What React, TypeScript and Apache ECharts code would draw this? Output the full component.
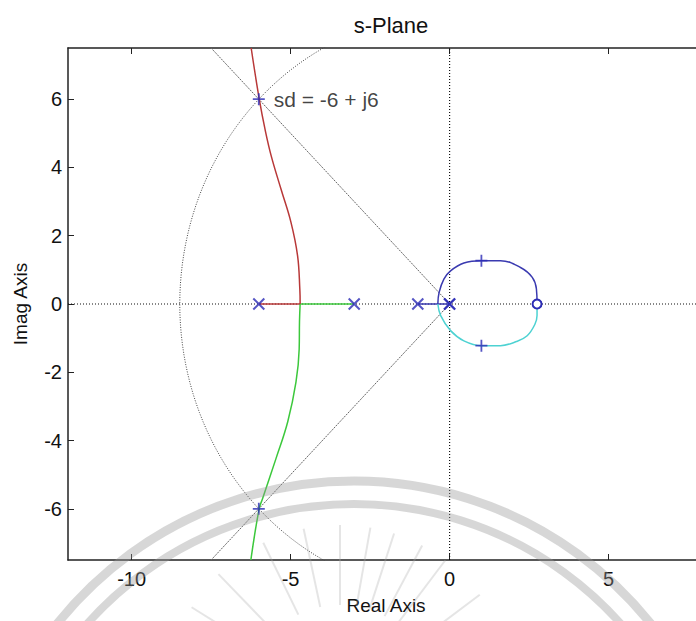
import React, { useEffect, useRef } from "react";
import * as echarts from "echarts";

const FONT = "'Liberation Sans', Arial, Helvetica, sans-serif";

// Axis extents and tick positions
const xRange: [number, number] = [-12, 8];
const yRange: [number, number] = [-7.5, 7.5];
const xTicks = [-10, -5, 0, 5];
const yTicks = [-6, -4, -2, 0, 2, 4, 6];

// Open-loop poles (x) and zero (o)
const openLoopPoles = [0, 0, -1, -3, -6];
const openLoopZeros = [2.75];

// Desired dominant pole
const sd: [number, number] = [-6, 6];

// Closed-loop poles at the design gain (+)
const closedLoopPoles: [number, number][] = [
  [-6, 6],
  [-6, -6],
  [1.0, 1.27],
  [1.0, -1.22],
];

// Real-axis segments of the locus
const redAxis: [number, number][] = [[-6, 0], [-4.7, 0]];
const greenAxis: [number, number][] = [[-3, 0], [-4.7, 0]];
const blueAxis: [number, number][] = [[-1, 0], [0, 0]];

// Complex branches
const redBranch: [number, number][] = [
  [-4.7, 0], [-4.71, 0.44], [-4.78, 1.41], [-4.99, 2.4], [-5.3, 3.36],
  [-5.61, 4.34], [-5.8, 5.1], [-5.98, 5.97], [-6.24, 7.5],
];
const greenBranch: [number, number][] = [
  [-4.7, 0], [-4.72, -0.5], [-4.73, -1.32], [-4.83, -2.28], [-5.09, -3.45],
  [-5.46, -4.53], [-5.88, -5.7], [-5.99, -6], [-6.25, -7.5],
];
const blueBranch: [number, number][] = [
  [-0.37, 0], [-0.33, 0.34], [-0.18, 0.73], [0.03, 0.97], [0.45, 1.2],
  [1.0, 1.27], [1.6, 1.27], [2.23, 1.07], [2.6, 0.78], [2.73, 0.44], [2.75, 0],
];
const cyanBranch: [number, number][] = [
  [-0.37, 0], [-0.28, -0.34], [0.03, -0.78], [0.45, -1.08], [1.0, -1.22],
  [1.6, -1.22], [2.1, -1.1], [2.44, -0.93], [2.68, -0.6], [2.75, -0.34], [2.75, 0],
];

const CROSS = "path://M0,0L10,10M10,0L0,10";
const PLUS = "path://M5,0L5,10M0,5L10,5";
const MARK = "#2b2bb5";

export default function App() {
  const ref = useRef<HTMLDivElement>(null);

  useEffect(() => {
    document.body.style.margin = "0";
    document.body.style.overflow = "hidden";
    document.documentElement.style.overflow = "hidden";
    if (!ref.current) return;
    const chart = echarts.init(ref.current, undefined, { renderer: "svg" });

    // Constant-damping rays through sd and its conjugate, and the natural-frequency circle
    const t = yRange[1] / sd[1];
    const rayUp: [number, number][] = [[0, 0], [sd[0] * t, sd[1] * t]];
    const rayDown: [number, number][] = [[0, 0], [sd[0] * t, -sd[1] * t]];
    const wn = Math.hypot(sd[0], sd[1]);
    const circle: [number, number][] = [];
    for (let a = 90; a <= 270; a += 2) {
      const r = (a * Math.PI) / 180;
      circle.push([wn * Math.cos(r), wn * Math.sin(r)]);
    }

    const line = (data: [number, number][], color: string, width: number, type: any = "solid", smooth: number | boolean = false) => ({
      type: "line",
      data,
      showSymbol: false,
      symbol: "none",
      smooth,
      lineStyle: { color, width, type },
      silent: true,
      z: 2,
    });

    // Watermark: two concentric arcs and a fan of rays
    const graphics: any[] = [
      {
        type: "arc",
        shape: { cx: 354, cy: 861, r: 380, startAngle: (198 * Math.PI) / 180, endAngle: (342 * Math.PI) / 180 },
        style: { stroke: "rgba(150,150,150,0.38)", lineWidth: 9, fill: null },
        z: 50,
      },
      {
        type: "arc",
        shape: { cx: 354, cy: 861, r: 357, startAngle: (198 * Math.PI) / 180, endAngle: (342 * Math.PI) / 180 },
        style: { stroke: "rgba(150,150,150,0.38)", lineWidth: 8, fill: null },
        z: 50,
      },
    ];
    const rayAngles = [212, 226, 244, 258, 270, 280, 288, 298, 307, 323, 334];
    rayAngles.forEach((deg) => {
      const r = (deg * Math.PI) / 180;
      graphics.push({
        type: "line",
        shape: {
          x1: 340 + 95 * Math.cos(r),
          y1: 700 + 95 * Math.sin(r),
          x2: 340 + 175 * Math.cos(r),
          y2: 700 + 175 * Math.sin(r),
        },
        style: { stroke: "rgba(170,170,170,0.3)", lineWidth: 2 },
        z: 50,
      });
    });

    const axisCommon = {
      type: "value",
      axisLine: { show: true, onZero: false, lineStyle: { color: "#222", width: 1.5 } },
      splitLine: { show: false },
    };

    chart.setOption({
      animation: false,
      backgroundColor: "#ffffff",
      title: {
        text: "s-Plane",
        left: 386,
        textAlign: "center",
        top: 9,
        textStyle: { fontSize: 22, fontWeight: "normal", color: "#111", fontFamily: FONT },
      },
      grid: { left: 68, right: 16, top: 48, bottom: 61, containLabel: false, outerBoundsMode: "none" },
      xAxis: [
        {
          ...axisCommon,
          position: "bottom",
          min: xRange[0],
          max: xRange[1],
          name: "Real Axis",
          nameLocation: "middle",
          nameGap: 36,
          nameTextStyle: { fontSize: 19, color: "#111", fontFamily: FONT },
          axisTick: { show: true, inside: true, length: 6, customValues: xTicks, lineStyle: { color: "#222" } },
          axisLabel: { show: true, customValues: xTicks, fontSize: 20, color: "#111", margin: 9, fontFamily: FONT },
        },
        {
          ...axisCommon,
          position: "top",
          min: xRange[0],
          max: xRange[1],
          axisTick: { show: true, inside: true, length: 6, customValues: xTicks, lineStyle: { color: "#222" } },
          axisLabel: { show: false },
        },
      ],
      yAxis: [
        {
          ...axisCommon,
          position: "left",
          min: yRange[0],
          max: yRange[1],
          name: "Imag Axis",
          nameLocation: "middle",
          nameGap: 38,
          nameTextStyle: { fontSize: 19, color: "#111", fontFamily: FONT },
          axisTick: { show: true, inside: true, length: 6, customValues: yTicks, lineStyle: { color: "#222" } },
          axisLabel: { show: true, customValues: yTicks, fontSize: 20, color: "#111", margin: 6, fontFamily: FONT },
        },
        {
          ...axisCommon,
          position: "right",
          min: yRange[0],
          max: yRange[1],
          axisTick: { show: true, inside: true, length: 6, customValues: yTicks, lineStyle: { color: "#222" } },
          axisLabel: { show: false },
        },
      ],
      series: [
        // Dotted real and imaginary axes
        line([[xRange[0], 0], [xRange[1], 0]], "#111", 1.2, [1, 2]),
        line([[0, yRange[0]], [0, yRange[1]]], "#111", 1.2, [1, 2]),
        // sgrid lines
        line(rayUp, "#666", 1, [2, 1]),
        line(rayDown, "#666", 1, [2, 1]),
        line(circle, "#444", 1, [1, 1.5]),
        // Locus branches
        line(redAxis, "#b83838", 1.5),
        line(greenAxis, "#3cc83c", 1.5),
        line(blueAxis, "#3a3ab0", 1.5),
        line(redBranch, "#b83838", 1.5, "solid", 0.4),
        line(greenBranch, "#3cc83c", 1.5, "solid", 0.4),
        line(blueBranch, "#3a3ab0", 1.5, "solid", 0.4),
        line(cyanBranch, "#4dd2d2", 1.5, "solid", 0.4),
        // Open-loop poles
        {
          type: "scatter",
          data: openLoopPoles.map((p) => [p, 0]),
          symbol: CROSS,
          symbolSize: 11,
          itemStyle: { color: "transparent", borderColor: MARK, borderWidth: 2 },
          z: 5,
          silent: true,
        },
        // Open-loop zero
        {
          type: "scatter",
          data: openLoopZeros.map((z) => [z, 0]),
          symbol: "circle",
          symbolSize: 9,
          itemStyle: { color: "#ffffff", borderColor: MARK, borderWidth: 2, opacity: 1 },
          z: 7,
          silent: true,
        },
        // Closed-loop poles, with the sd annotation
        {
          type: "scatter",
          data: closedLoopPoles.map((p) => ({
            value: p,
            label:
              p[0] === sd[0] && p[1] === sd[1]
                ? {
                    show: true,
                    position: "right",
                    distance: 8,
                    formatter: `sd = ${sd[0]} + j${sd[1]}`,
                    fontSize: 21,
                    color: "#111",
                    fontFamily: FONT,
                  }
                : { show: false },
          })),
          symbol: PLUS,
          symbolSize: 12,
          itemStyle: { color: "transparent", borderColor: MARK, borderWidth: 1.8 },
          z: 6,
          silent: true,
        },
      ],
      graphic: graphics,
    });

    return () => chart.dispose();
  }, []);

  return <div ref={ref} style={{ width: 720, height: 621 }} />;
}
